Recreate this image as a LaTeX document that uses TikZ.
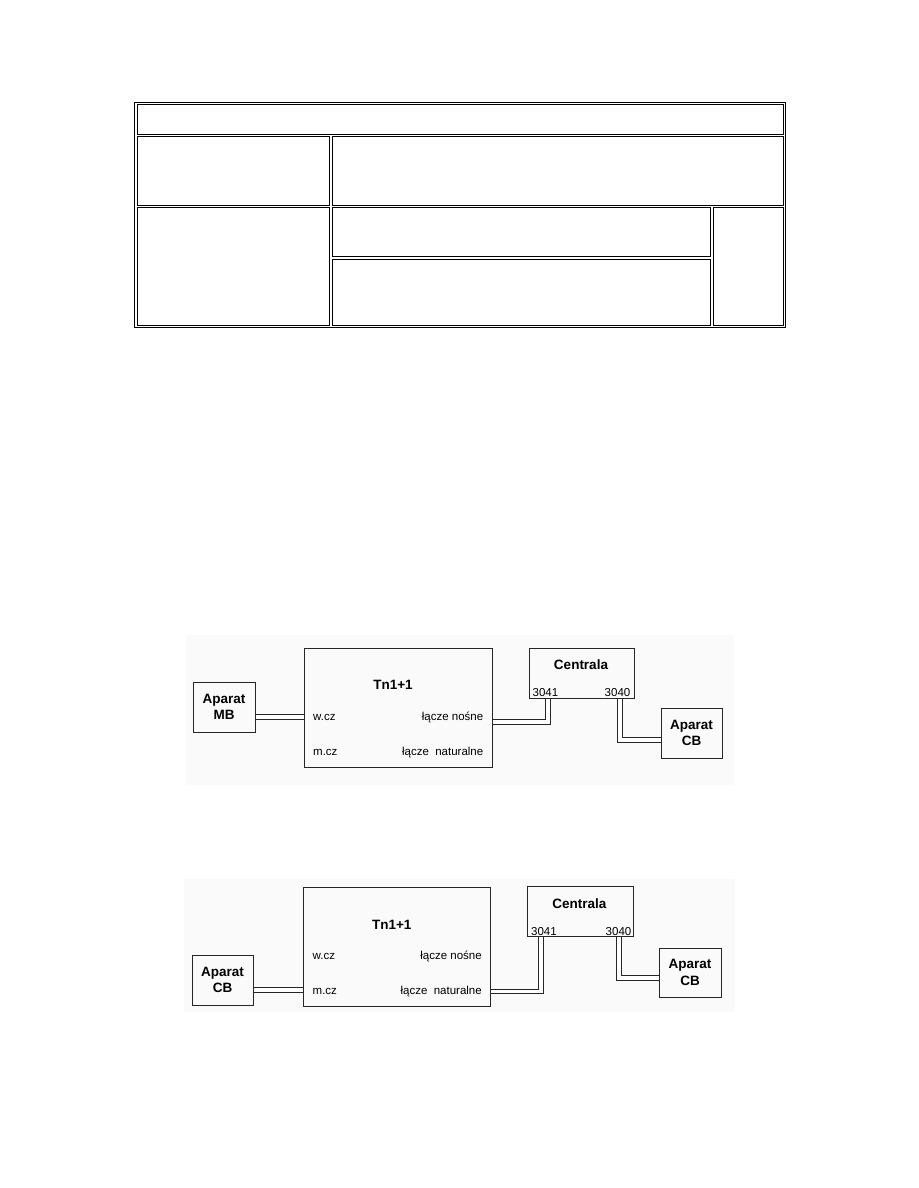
\documentclass[tikz,border=0pt]{standalone}
\usepackage{fontspec}
\setmainfont{Liberation Sans}
\usetikzlibrary{backgrounds}
\newcommand\dgbold{\fontsize{13.5}{16.5}\selectfont\bfseries}
\newcommand\dgsmall{\fontsize{11.5}{13}\selectfont}
\tikzset{
  cell/.style={draw=black, line width=0.95pt},
  outerframe/.style={draw=black, line width=1.6pt},
  panel/.style={fill=black!2, draw=none},
  box/.style={draw=black!85, line width=0.9pt, inner sep=0pt, align=center, font=\dgbold},
  lbl/.style={font=\dgsmall, inner sep=0pt},
  ttl/.style={font=\dgbold, inner sep=0pt},
  dbl/.style={draw=black!85, double=white, double distance=3.4pt, line width=0.9pt, line join=miter},
}
\begin{document}
\begin{tikzpicture}[x=1pt, y=-1pt]
\useasboundingbox (0,0) rectangle (918,1188);

% ---------- table ----------
\draw[outerframe] (134.5,102.5) rectangle (785.5,327.5);
\draw[cell] (137,104.5) rectangle (783.5,134);
\draw[cell] (137,136.8) rectangle (329.7,205);
\draw[cell] (332.5,136.8) rectangle (783.5,205);
\draw[cell] (137,207.8) rectangle (329.2,325);
\draw[cell] (332,207.8) rectangle (710.3,256.7);
\draw[cell] (332,259.5) rectangle (710.3,325);
\draw[cell] (713,207.8) rectangle (783.5,325);

% ---------- diagram 1 ----------
\node[box, minimum width=62pt, minimum height=50pt] (mb) at (224,707) {Aparat\\MB};
\node[box, minimum width=188pt, minimum height=119pt] (tn) at (398,707.5) {};
\node[box, minimum width=105pt, minimum height=50pt] (cen) at (581.5,673) {};
\node[box, minimum width=61pt, minimum height=50pt] (cb) at (691.5,733) {Aparat\\CB};

\node[ttl, anchor=base] (tnt) at (393,689.7) {Tn1+1};
\node[lbl, anchor=base west] (wcz) at (313,720) {w.cz};
\node[lbl, anchor=base west] (mcz) at (313,755.5) {m.cz};
\node[lbl, anchor=base east] (ln) at (483.5,720) {łącze nośne};
\node[lbl, anchor=base east] (lnat) at (483.5,755.5) {łącze\ \ naturalne};
\node[ttl, anchor=base] (cent) at (581,669) {Centrala};
\node[lbl, anchor=base west] (p41) at (532.5,696.5) {3041};
\node[lbl, anchor=base east] (p40) at (630.5,696.5) {3040};

\coordinate (j1) at (0,717);
\coordinate (k1) at (548,722);
\coordinate (k2) at (620,740);

% ---------- diagram 2 ----------
\node[box, minimum width=61pt, minimum height=50pt] (cba) at (222.5,980) {Aparat\\CB};
\node[box, minimum width=187pt, minimum height=119pt] (tnb) at (396.5,946.5) {};
\node[box, minimum width=106pt, minimum height=50pt] (cenb) at (580,911) {};
\node[box, minimum width=62pt, minimum height=49pt] (cbb) at (690,972.5) {Aparat\\CB};

\node[ttl, anchor=base] (tntb) at (391.7,929.7) {Tn1+1};
\node[lbl, anchor=base west] (wczb) at (312.5,959.7) {w.cz};
\node[lbl, anchor=base west] (mczb) at (312.5,994) {m.cz};
\node[lbl, anchor=base east] (lnb) at (482,959.7) {łącze nośne};
\node[lbl, anchor=base east] (lnatb) at (482,994) {łącze\ \ naturalne};
\node[ttl, anchor=base] (centb) at (579.3,908) {Centrala};
\node[lbl, anchor=base west] (p41b) at (531,935) {3041};
\node[lbl, anchor=base east] (p40b) at (631.5,935) {3040};

\coordinate (j2) at (0,990);
\coordinate (k3) at (541,991.5);
\coordinate (k4) at (619,978);

\begin{pgfonlayer}{background}
  \fill[white] (0,0) rectangle (918,1188);
  \fill[panel] (185.5,635) rectangle (733.5,785);
  \fill[panel] (183.5,879) rectangle (735,1011.5);
  \draw[dbl] (mb.east |- j1) -- (tn.west |- j1);
  \draw[dbl] (tn.east |- k1) -| (k1 |- cen.south);
  \draw[dbl] (k2 |- cen.south) |- (cb.west |- k2);
  \draw[dbl] (cba.east |- j2) -- (tnb.west |- j2);
  \draw[dbl] (tnb.east |- k3) -| (k3 |- cenb.south);
  \draw[dbl] (k4 |- cenb.south) |- (cbb.west |- k4);
\end{pgfonlayer}
\end{tikzpicture}
\end{document}
